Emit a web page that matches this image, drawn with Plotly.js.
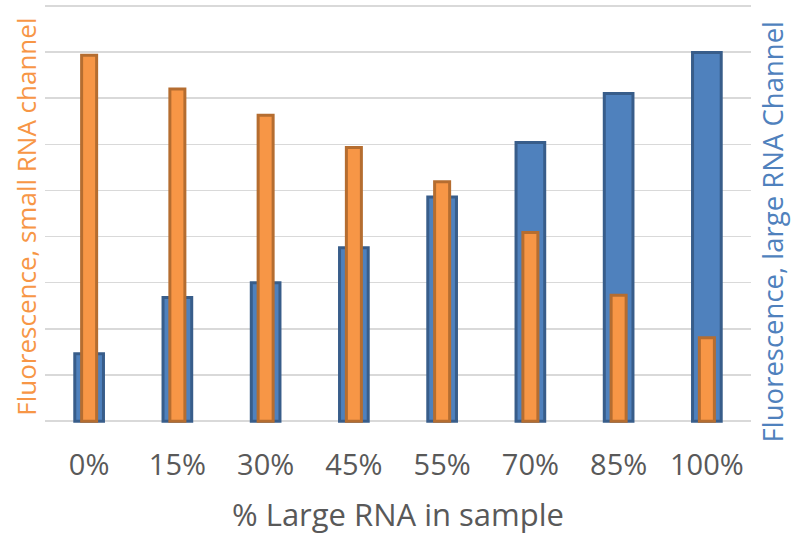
<!DOCTYPE html>
<html>
<head>
<meta charset="utf-8">
<script src="https://cdn.plot.ly/plotly-3.0.1.min.js"></script>
<style>
  html, body { margin: 0; padding: 0; background: #ffffff; }
  #chart { width: 792px; height: 535px; }
</style>
</head>
<body>
<div id="chart"></div>
<script>
// Sample composition (share of large RNA)
const categories = ['0%', '15%', '30%', '45%', '55%', '70%', '85%', '100%'];

// Fluorescence read in the small RNA channel (left axis, relative units)
const smallRnaSignal = [7.93, 7.20, 6.63, 5.93, 5.19, 4.09, 2.73, 1.81];

// Fluorescence read in the large RNA channel (right axis, relative units)
const largeRnaSignal = [1.46, 2.68, 3.00, 3.76, 4.86, 6.04, 7.10, 7.99];

const FONT = '"Open Sans", "Noto Sans", sans-serif';
const ORANGE = '#F79646';
const BLUE = '#4F81BD';
const TEXT_GREY = '#595959';

// Large RNA bars sit on the base y axis (right side), drawn first
const largeTrace = {
  type: 'bar',
  x: categories,
  y: largeRnaSignal,
  yaxis: 'y',
  width: 0.325,
  marker: { color: BLUE, line: { color: '#385D8A', width: 3 } },
  hoverinfo: 'x+y',
  name: 'Large RNA channel'
};

// Small RNA bars sit on the overlaying axis (left side), drawn on top
const smallTrace = {
  type: 'bar',
  x: categories,
  y: smallRnaSignal,
  yaxis: 'y2',
  width: 0.17,
  marker: { color: ORANGE, line: { color: '#B56D30', width: 3 } },
  hoverinfo: 'x+y',
  name: 'Small RNA channel'
};

// A hair of padding past 0 and 9 keeps the first and last gridlines visible
const gridAxis = {
  range: [-0.04, 9.04],
  dtick: 1,
  tick0: 0,
  showticklabels: false,
  ticks: '',
  showline: false,
  zeroline: false,
  fixedrange: true
};

const layout = {
  width: 792,
  height: 535,
  margin: { l: 45, r: 41, t: 4, b: 112 },
  paper_bgcolor: '#ffffff',
  plot_bgcolor: '#ffffff',
  showlegend: false,
  barmode: 'overlay',
  font: { family: FONT, color: TEXT_GREY },
  xaxis: {
    type: 'category',
    showgrid: false,
    showline: false,
    zeroline: false,
    ticks: '',
    tickfont: { family: FONT, size: 29, color: TEXT_GREY },
    ticklabelstandoff: 22,
    title: {
      text: '% Large RNA in sample',
      font: { family: FONT, size: 31, color: TEXT_GREY },
      standoff: 23
    }
  },
  yaxis: Object.assign({}, gridAxis, {
    side: 'right',
    showgrid: true,
    gridcolor: '#D9D9D9',
    gridwidth: 1.5
  }),
  yaxis2: Object.assign({}, gridAxis, {
    side: 'left',
    overlaying: 'y',
    showgrid: false
  }),
  annotations: [
    {
      text: 'Fluorescence, small RNA channel',
      textangle: -90,
      xref: 'paper', yref: 'paper',
      x: -0.028, y: 0.4928,
      xanchor: 'center', yanchor: 'middle',
      showarrow: false,
      font: { family: FONT, size: 26, color: ORANGE }
    },
    {
      text: 'Fluorescence, large RNA Channel',
      textangle: -90,
      xref: 'paper', yref: 'paper',
      x: 1.031, y: 0.457,
      xanchor: 'center', yanchor: 'middle',
      showarrow: false,
      font: { family: FONT, size: 27.5, color: BLUE }
    }
  ]
};

Plotly.newPlot('chart', [largeTrace, smallTrace], layout, { displayModeBar: false, staticPlot: true });
</script>
</body>
</html>
